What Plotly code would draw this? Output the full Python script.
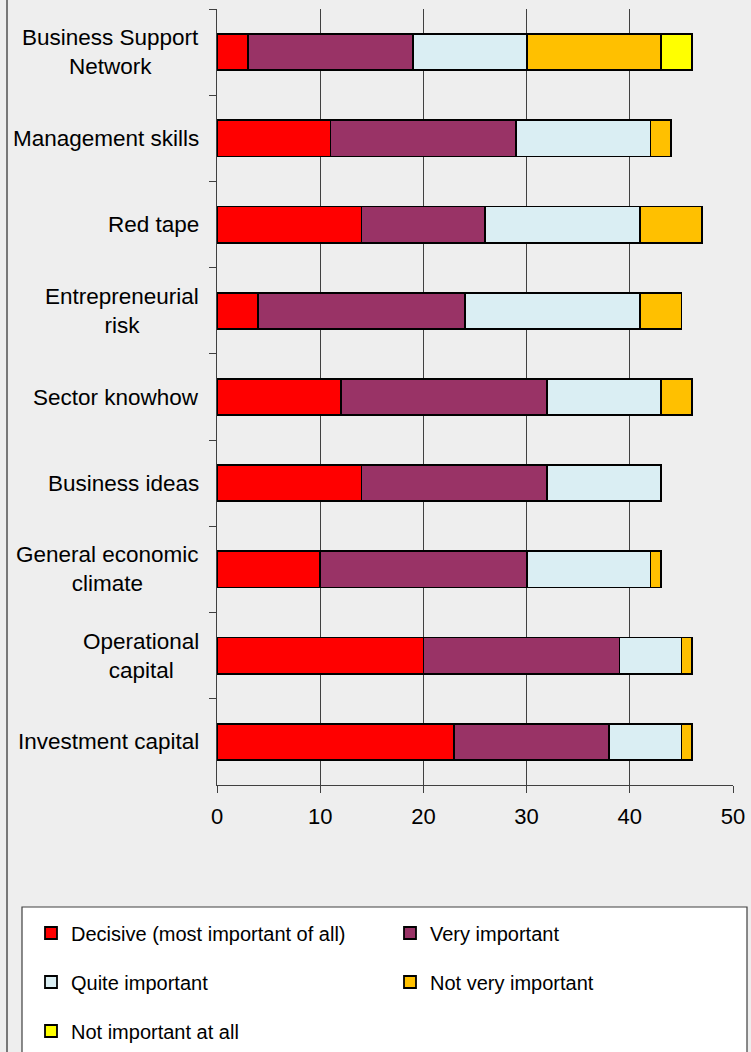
import plotly.graph_objects as go

# ---- data ----
categories = [
    "Business Support<br>Network",
    "Management skills",
    "Red tape",
    "Entrepreneurial<br>risk",
    "Sector knowhow",
    "Business ideas",
    "General economic<br>climate",
    "Operational<br>capital",
    "Investment capital",
]
decisive = [3, 11, 14, 4, 12, 14, 10, 20, 23]
very_important = [16, 18, 12, 20, 20, 18, 20, 19, 15]
quite_important = [11, 13, 15, 17, 11, 11, 12, 6, 7]
not_very_important = [13, 2, 6, 4, 3, 0, 1, 1, 1]
not_important_at_all = [3, 0, 0, 0, 0, 0, 0, 0, 0]

series_names = [
    "Decisive (most important of all)",
    "Very important",
    "Quite important",
    "Not very important",
    "Not important at all",
]
x_ticks = [0, 10, 20, 30, 40, 50]

# ---- styling ----
colors = ["#FF0000", "#993366", "#DAEEF3", "#FFC000", "#FFFF00"]
legend_ids = ["legend", "legend", "legend2", "legend2", "legend3"]
FONT = "Liberation Sans, Arial, sans-serif"
BG = "#EEEEEE"

W, H = 751, 1052
L, R, T, B = 217, 18, 9, 267
plot_w = W - L - R
plot_h = H - T - B


def px_x(px):
    return (px - L) / plot_w


def px_y(py):
    return (H - B - py) / plot_h


fig = go.Figure()
values = [decisive, very_important, quite_important, not_very_important, not_important_at_all]
for name, vals, col, lg in zip(series_names, values, colors, legend_ids):
    fig.add_trace(go.Bar(
        name=name,
        y=categories,
        x=[v if v else None for v in vals],
        orientation="h",
        marker=dict(color=col, line=dict(color="black", width=1.8)),
        legend=lg,
        hoverinfo="x+name",
    ))

for cat in categories:
    fig.add_annotation(
        x=0, xref="paper", y=cat, yref="y",
        text=cat, showarrow=False, xanchor="right", xshift=-16,
        align="center", font=dict(family=FONT, size=22.5, color="black"),
    )

legend_common = dict(
    orientation="h", xref="paper", yref="paper",
    xanchor="left", yanchor="middle",
    bgcolor="rgba(0,0,0,0)", borderwidth=0,
    font=dict(family=FONT, size=20, color="black"),
    entrywidth=314, entrywidthmode="pixels", traceorder="normal",
    itemclick=False, itemdoubleclick=False,
)
leg_x = px_x(31)
fig.update_layout(
    legend=dict(legend_common, x=leg_x, y=px_y(933)),
    legend2=dict(legend_common, x=leg_x, y=px_y(982)),
    legend3=dict(legend_common, x=leg_x, y=px_y(1031)),
)

fig.update_layout(
    width=W, height=H,
    margin=dict(l=L, r=R, t=T, b=B, pad=0, autoexpand=False),
    paper_bgcolor=BG, plot_bgcolor=BG,
    barmode="stack", bargap=0.58,
    showlegend=True,
    font=dict(family=FONT, size=22, color="black"),
    xaxis=dict(
        range=[0, 50], tickvals=x_ticks, ticktext=[str(v) for v in x_ticks],
        showgrid=True, gridcolor="#404040", gridwidth=1,
        showline=True, linecolor="#404040", linewidth=1,
        ticks="outside", ticklen=7, tickcolor="#404040",
        ticklabelstandoff=5,
        zeroline=False, fixedrange=True,
        tickfont=dict(family=FONT, size=22, color="black"),
    ),
    yaxis=dict(
        categoryorder="array", categoryarray=categories,
        autorange="reversed",
        showticklabels=False, tickson="boundaries",
        ticks="outside", ticklen=7, tickcolor="#404040",
        showline=True, linecolor="#404040", linewidth=1,
        showgrid=False, zeroline=False, fixedrange=True,
    ),
    shapes=[
        # outer frame line on the left
        dict(type="line", xref="paper", yref="paper",
             x0=px_x(7), x1=px_x(7), y0=px_y(-5), y1=px_y(H + 5),
             line=dict(color="#505050", width=1.5)),
        # legend box
        dict(type="rect", xref="paper", yref="paper",
             x0=px_x(22), x1=px_x(747), y0=px_y(907), y1=px_y(H + 20),
             fillcolor="white", line=dict(color="#404040", width=1.2),
             layer="below"),
    ],
)

fig.write_html(
    "out.html",
    config={"displayModeBar": False},
    post_script="document.body.style.margin='0';document.body.style.overflow='hidden';",
)
